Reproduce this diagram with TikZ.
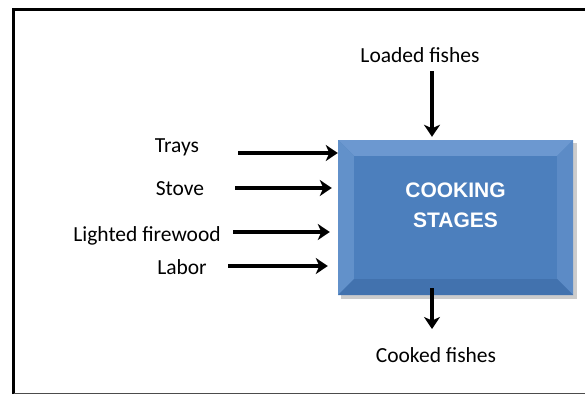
\documentclass[tikz,border=0pt]{standalone}
\usepackage{fontspec}
\setmainfont{Carlito}
\newfontfamily\boxfont{Liberation Sans}
\usetikzlibrary{arrows.meta}
\definecolor{boxblue}{HTML}{4C7FBD}
\definecolor{bevellight}{HTML}{6C98D0}
\definecolor{beveldark}{HTML}{4272AE}
\tikzset{
  flow/.style={line width=3.8pt, -{Stealth[length=12pt,width=16pt,inset=3.5pt]}},
  lbl/.style={font=\fontsize{21.5}{24}\selectfont, inner sep=0pt}
}
\begin{document}
\begin{tikzpicture}[x=1pt,y=-1pt]
\useasboundingbox (0,0) rectangle (585,394);
% frame
\draw [line width=3pt] (13.5,394) -- (13.5,9.5) -- (585,9.5);
\draw [line width=1pt, black!70] (13.5,393) -- (585,393);
% beveled process box
\fill [black!20] (341,143) rectangle (577,299);
\fill [boxblue] (338,140) rectangle (573,295);
\fill [bevellight] (338,140) -- (573,140) -- (557,156) -- (354,156) -- cycle;
\fill [bevellight!70!boxblue] (338,140) -- (354,156) -- (354,279) -- (338,295) -- cycle;
\fill [bevellight!50!boxblue] (573,140) -- (573,295) -- (557,279) -- (557,156) -- cycle;
\fill [beveldark] (338,295) -- (573,295) -- (557,279) -- (354,279) -- cycle;
\fill [boxblue] (354,156) rectangle (557,279);
\node (cook) [minimum width=235pt, minimum height=155pt] at (455.5,217.5) {};
\node (title) at (455.5,205) [align=center, text=white, font=\boxfont\bfseries\fontsize{21}{30}\selectfont] {COOKING\\STAGES};
% inputs
\node (trays) [lbl] at (177,147) {Trays};
\node (stove) [lbl] at (180,189) {Stove};
\node (wood) [lbl] at (147,236) {Lighted firewood};
\node (labor) [lbl] at (182,267) {Labor};
\node (loaded) [lbl] at (420,55) {Loaded fishes};
\node (cooked) [lbl] at (436,355) {Cooked fishes};
\coordinate (traysA) at (238,153);
\coordinate (stoveA) at (235,188);
\coordinate (woodA) at (233,232);
\coordinate (laborA) at (228,266);
\coordinate (loadedA) at (432,71);
\coordinate (cookedA) at (432,288);
\coordinate (cookedB) at (432,329);
\draw [flow] (traysA) -- (cook.west |- traysA) ;
\draw [flow] (stoveA) -- ([xshift=-6pt]cook.west |- stoveA);
\draw [flow] (woodA) -- ([xshift=-8pt]cook.west |- woodA);
\draw [flow] (laborA) -- ([xshift=-10pt]cook.west |- laborA);
\draw [flow] (loadedA) -- ([yshift=3pt]cook.north -| loadedA);
\draw [flow] (cookedA) -- (cookedB);
\end{tikzpicture}
\end{document}
